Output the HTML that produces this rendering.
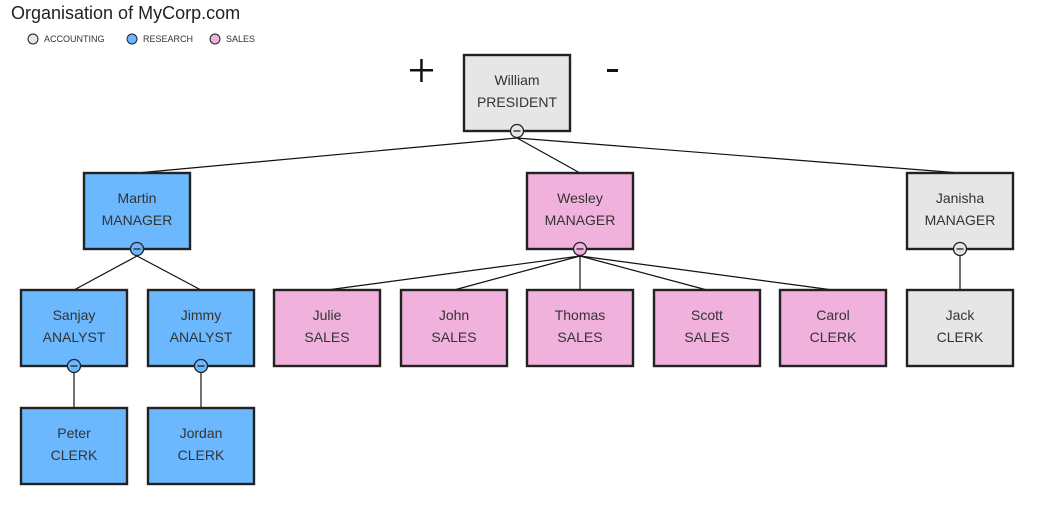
<!DOCTYPE html>
<html><head><meta charset="utf-8"><style>
html,body{margin:0;padding:0;background:#fff;width:1042px;height:509px;overflow:hidden}
svg{display:block;font-family:"Liberation Sans",sans-serif}
</style></head><body>
<svg width="1042" height="509" viewBox="0 0 1042 509">
<text x="11" y="19" font-size="18" fill="#222">Organisation of MyCorp.com</text>
<circle cx="33" cy="39" r="5" fill="#e6e6e6" stroke="#222" stroke-width="1"/>
<text x="44" y="42" font-size="9" fill="#333">ACCOUNTING</text>
<circle cx="132" cy="39" r="5" fill="#6cb8ff" stroke="#222" stroke-width="1"/>
<text x="143" y="42" font-size="9" fill="#333">RESEARCH</text>
<circle cx="215" cy="39" r="5" fill="#f0b2dc" stroke="#222" stroke-width="1"/>
<text x="226" y="42" font-size="9" fill="#333">SALES</text>
<rect x="410" y="69" width="23" height="2.5" fill="#111"/>
<rect x="420.2" y="59" width="2.5" height="23" fill="#111"/>
<rect x="607" y="69" width="11" height="3" fill="#111"/>
<g stroke="#111" stroke-width="1.2" fill="none">
<line x1="517" y1="138" x2="137" y2="173"/>
<line x1="517" y1="138" x2="580" y2="173"/>
<line x1="517" y1="138" x2="960" y2="173"/>
<line x1="137" y1="256" x2="74" y2="290"/>
<line x1="137" y1="256" x2="201" y2="290"/>
<line x1="580" y1="256" x2="327" y2="290"/>
<line x1="580" y1="256" x2="454" y2="290"/>
<line x1="580" y1="256" x2="580" y2="290"/>
<line x1="580" y1="256" x2="707" y2="290"/>
<line x1="580" y1="256" x2="833" y2="290"/>
<line x1="960" y1="256" x2="960" y2="290"/>
<line x1="74" y1="373" x2="74" y2="408"/>
<line x1="201" y1="373" x2="201" y2="408"/>
</g>
<g stroke="#222" stroke-width="2.4">
<rect x="464" y="55" width="106" height="76" fill="#e6e6e6"/>
<rect x="84" y="173" width="106" height="76" fill="#6cb8ff"/>
<rect x="527" y="173" width="106" height="76" fill="#f0b2dc"/>
<rect x="907" y="173" width="106" height="76" fill="#e6e6e6"/>
<rect x="21" y="290" width="106" height="76" fill="#6cb8ff"/>
<rect x="148" y="290" width="106" height="76" fill="#6cb8ff"/>
<rect x="274" y="290" width="106" height="76" fill="#f0b2dc"/>
<rect x="401" y="290" width="106" height="76" fill="#f0b2dc"/>
<rect x="527" y="290" width="106" height="76" fill="#f0b2dc"/>
<rect x="654" y="290" width="106" height="76" fill="#f0b2dc"/>
<rect x="780" y="290" width="106" height="76" fill="#f0b2dc"/>
<rect x="907" y="290" width="106" height="76" fill="#e6e6e6"/>
<rect x="21" y="408" width="106" height="76" fill="#6cb8ff"/>
<rect x="148" y="408" width="106" height="76" fill="#6cb8ff"/>
</g>
<g stroke="#222" stroke-width="1.3">
<circle cx="517" cy="131" r="6.5" fill="#e6e6e6"/>
<circle cx="137" cy="249" r="6.5" fill="#6cb8ff"/>
<circle cx="580" cy="249" r="6.5" fill="#f0b2dc"/>
<circle cx="960" cy="249" r="6.5" fill="#e6e6e6"/>
<circle cx="74" cy="366" r="6.5" fill="#6cb8ff"/>
<circle cx="201" cy="366" r="6.5" fill="#6cb8ff"/>
<line x1="513.5" y1="131" x2="520.5" y2="131"/>
<line x1="133.5" y1="249" x2="140.5" y2="249"/>
<line x1="576.5" y1="249" x2="583.5" y2="249"/>
<line x1="956.5" y1="249" x2="963.5" y2="249"/>
<line x1="70.5" y1="366" x2="77.5" y2="366"/>
<line x1="197.5" y1="366" x2="204.5" y2="366"/>
</g>
<g font-size="14" fill="#333" text-anchor="middle">
<text x="517" y="85">William</text><text x="517" y="107">PRESIDENT</text>
<text x="137" y="203">Martin</text><text x="137" y="225">MANAGER</text>
<text x="580" y="203">Wesley</text><text x="580" y="225">MANAGER</text>
<text x="960" y="203">Janisha</text><text x="960" y="225">MANAGER</text>
<text x="74" y="320">Sanjay</text><text x="74" y="342">ANALYST</text>
<text x="201" y="320">Jimmy</text><text x="201" y="342">ANALYST</text>
<text x="327" y="320">Julie</text><text x="327" y="342">SALES</text>
<text x="454" y="320">John</text><text x="454" y="342">SALES</text>
<text x="580" y="320">Thomas</text><text x="580" y="342">SALES</text>
<text x="707" y="320">Scott</text><text x="707" y="342">SALES</text>
<text x="833" y="320">Carol</text><text x="833" y="342">CLERK</text>
<text x="960" y="320">Jack</text><text x="960" y="342">CLERK</text>
<text x="74" y="438">Peter</text><text x="74" y="460">CLERK</text>
<text x="201" y="438">Jordan</text><text x="201" y="460">CLERK</text>
</g>
</svg>
</body></html>
